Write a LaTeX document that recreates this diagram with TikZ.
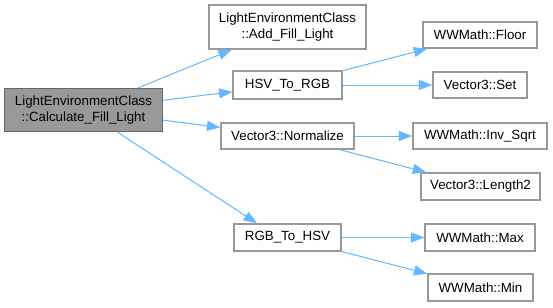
\documentclass[tikz,border=0pt]{standalone}
\usepackage{fontspec}
\setmainfont{Liberation Sans}
\usetikzlibrary{arrows.meta}

\definecolor{edgeblue}{HTML}{63B8FF}
\definecolor{boxgray}{HTML}{999999}
\definecolor{rootgray}{HTML}{666666}

\tikzset{
  fn/.style={draw=boxgray, fill=white, line width=1.1pt, inner sep=0pt, align=center,
    font=\fontsize{10}{11.6}\selectfont},
  root/.style={fn, draw=rootgray, fill=boxgray},
  sz/.style 2 args={minimum width=#1*0.75pt, minimum height=#2*0.75pt},
  call/.style={draw=edgeblue, line width=0.75pt, -{Triangle[length=10pt,width=7.5pt]}},
}

\begin{document}
\begin{tikzpicture}[x=0.75pt, y=-0.75pt]
    \useasboundingbox[fill=white] (0,0) rectangle (553,307);

    % === caller ===
    \node[root, sz={158}{43}] (calc) at (83.5,110) {LightEnvironmentClass\\::Calculate\_Fill\_Light};

    % === first level callees ===
    \node[fn, sz={157}{44}] (addfill) at (287.5,27) {LightEnvironmentClass\\::Add\_Fill\_Light};
    \node[fn, sz={109}{28}] (hsv2rgb) at (287.5,85) {HSV\_To\_RGB};
    \node[fn, sz={133}{26}] (normalize) at (287.5,136) {Vector3::Normalize};
    \node[fn, sz={107}{27}] (rgb2hsv) at (287.5,237.5) {RGB\_To\_HSV};

    % === second level callees ===
    \node[fn, sz={114}{26}] (floor) at (480,35) {WWMath::Floor};
    \node[fn, sz={94}{26}] (vset) at (480,85) {Vector3::Set};
    \node[fn, sz={134}{26}] (invsqrt) at (480,136) {WWMath::Inv\_Sqrt};
    \node[fn, sz={119}{27}] (length2) at (480.5,186.5) {Vector3::Length2};
    \node[fn, sz={110}{27}] (wmax) at (480,237.5) {WWMath::Max};
    \node[fn, sz={105}{27}] (wmin) at (480.5,287.5) {WWMath::Min};

    % === calls ===
    \draw[call] (calc) -- (addfill);
    \draw[call] (calc) -- (hsv2rgb);
    \draw[call] (calc) -- (normalize);
    \draw[call] (calc) -- (rgb2hsv.155);

    \draw[call] (hsv2rgb) -- (floor);
    \draw[call] (hsv2rgb) -- (vset);
    \draw[call] (normalize) -- (invsqrt);
    \draw[call] (normalize) -- (length2);
    \draw[call] (rgb2hsv) -- (wmax);
    \draw[call] (rgb2hsv) -- (wmin);
\end{tikzpicture}
\end{document}
